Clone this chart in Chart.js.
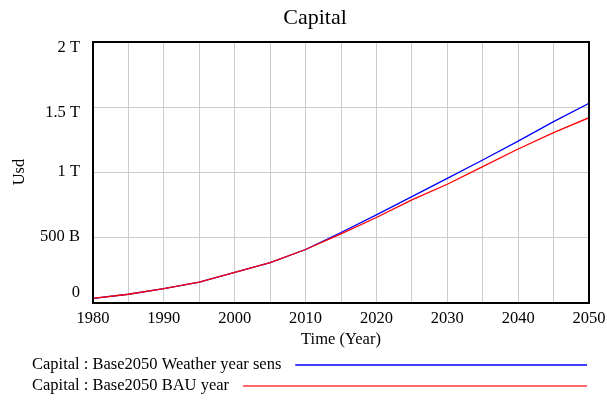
<!DOCTYPE html>
<html>
<head>
<meta charset="utf-8">
<script src="https://cdn.jsdelivr.net/npm/chart.js@4/dist/chart.umd.min.js"></script>
<style>
  html, body { margin: 0; padding: 0; background: #fff; }
  #wrap { width: 607px; height: 401px; }
</style>
</head>
<body>
<div id="wrap"><canvas id="c" width="607" height="401"></canvas></div>
<script>
// Simulation years
const years = [1980, 1985, 1990, 1995, 2000, 2005, 2010, 2015, 2020, 2025, 2030, 2035, 2040, 2045, 2050];
// Capital, in trillions of USD
const weatherSens = [0.035, 0.067, 0.11, 0.16, 0.235, 0.31, 0.41, 0.54, 0.675, 0.815, 0.955, 1.096, 1.24, 1.39, 1.53];
const bauYear     = [0.035, 0.067, 0.11, 0.16, 0.235, 0.31, 0.41, 0.53, 0.655, 0.79, 0.91, 1.045, 1.18, 1.305, 1.42];

const seriesNames = ['Capital : Base2050 Weather year sens', 'Capital : Base2050 BAU year'];
const seriesColors = ['#0000ff', '#ff0000'];
const legendColors = ['#0000ff', '#ff6a6a'];

const yTickValues = [0, 0.5e12, 1e12, 1.5e12, 2e12];
const yTickLabels = ['0', '500 B', '1 T', '1.5 T', '2 T'];
const xTickLabelYears = [1980, 1990, 2000, 2010, 2020, 2030, 2040, 2050];

const SERIF = '"Liberation Serif", "Times New Roman", serif';
const LABEL_FONT = '16.5px ' + SERIF;

const toPoints = vals => years.map((y, i) => ({ x: y, y: vals[i] * 1e12 }));

// vertical nudge of each y label so the end labels stay inside the frame
const yLabelNudge = [-10, -1, -1, 5, 6];

// Title, tick labels, axis titles, frame and legend rows
const decorations = {
  id: 'decorations',
  afterDraw(chart) {
    const { ctx, chartArea: a, scales } = chart;
    ctx.save();
    ctx.fillStyle = '#000';
    ctx.textBaseline = 'middle';

    // title
    ctx.font = '22px ' + SERIF;
    ctx.textAlign = 'center';
    ctx.fillText('Capital', 315, 18);

    // x tick labels
    ctx.font = LABEL_FONT;
    xTickLabelYears.forEach(yr => {
      ctx.fillText(String(yr), scales.x.getPixelForValue(yr), 319);
    });
    ctx.fillText('Time (Year)', (a.left + a.right) / 2, 340);

    // y tick labels
    ctx.textAlign = 'right';
    yTickLabels.forEach((lab, i) => {
      ctx.fillText(lab, 80, scales.y.getPixelForValue(yTickValues[i]) + yLabelNudge[i]);
    });

    // y axis title
    ctx.textAlign = 'center';
    ctx.save();
    ctx.translate(20, 172);
    ctx.rotate(-Math.PI / 2);
    ctx.fillText('Usd', 0, 0);
    ctx.restore();

    // plot frame
    ctx.strokeStyle = '#000';
    ctx.lineWidth = 2;
    ctx.strokeRect(a.left, a.top, a.right - a.left, a.bottom - a.top);

    // legend rows
    ctx.textAlign = 'left';
    ctx.font = LABEL_FONT;
    const rowY = [365, 386];
    const lineWidths = [1.3, 2];
    seriesNames.forEach((name, i) => {
      ctx.fillStyle = '#000';
      ctx.fillText(name, 32, rowY[i]);
      const w = ctx.measureText(name).width;
      ctx.strokeStyle = legendColors[i];
      ctx.lineWidth = lineWidths[i];
      ctx.beginPath();
      ctx.moveTo(32 + w + 14, rowY[i]);
      ctx.lineTo(587, rowY[i]);
      ctx.stroke();
    });
    ctx.restore();
  }
};

new Chart(document.getElementById('c'), {
  type: 'line',
  data: {
    datasets: [
      { label: seriesNames[1], data: toPoints(bauYear), borderColor: seriesColors[1], borderWidth: 1.3, pointRadius: 0, tension: 0 },
      { label: seriesNames[0], data: toPoints(weatherSens), borderColor: seriesColors[0], borderWidth: 1.3, pointRadius: 0, tension: 0 }
    ]
  },
  options: {
    responsive: false,
    animation: false,
    layout: { padding: { left: 0, right: 18, top: 42, bottom: 0 } },
    plugins: { legend: { display: false }, title: { display: false }, tooltip: { enabled: false } },
    scales: {
      x: {
        type: 'linear',
        min: 1980, max: 2050,
        afterFit(s) { s.height = 98; },
        afterBuildTicks(s) { s.ticks = []; for (let v = 1980; v <= 2050; v += 5) s.ticks.push({ value: v }); },
        grid: { color: '#cccccc', lineWidth: 1, drawTicks: false },
        border: { display: false },
        ticks: { autoSkip: false, maxRotation: 0, display: false }
      },
      y: {
        min: 0, max: 2e12,
        afterFit(s) { s.width = 93; },
        afterBuildTicks(s) { s.ticks = yTickValues.map(v => ({ value: v })); },
        grid: { color: '#cccccc', lineWidth: 1, drawTicks: false },
        border: { display: false },
        ticks: { autoSkip: false, display: false }
      }
    }
  },
  plugins: [decorations]
});
</script>
</body>
</html>
